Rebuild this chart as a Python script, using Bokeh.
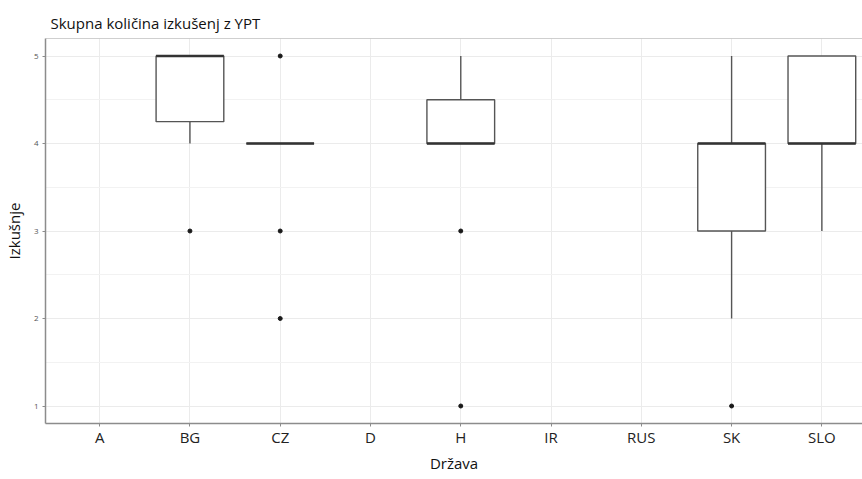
from bokeh.plotting import figure
from bokeh.models import Range1d, FixedTicker, Span
from bokeh.embed import file_html
from bokeh.resources import INLINE

# ---- data ----
countries = ["A", "BG", "CZ", "D", "H", "IR", "RUS", "SK", "SLO"]
box_countries = ["BG", "CZ", "H", "SK", "SLO"]
whisker_low = [4, 4, 4, 2, 3]
q1 = [4.25, 4, 4, 3, 4]
median = [5, 4, 4, 4, 4]
q3 = [5, 4, 4.5, 4, 5]
whisker_high = [5, 4, 5, 5, 5]
outlier_country = ["BG", "CZ", "CZ", "CZ", "H", "H", "SK"]
outlier_value = [3, 5, 3, 2, 3, 1, 1]
y_ticks = [1, 2, 3, 4, 5]

pos = {c: i + 1 for i, c in enumerate(countries)}
bx = [pos[c] for c in box_countries]
ox = [pos[c] for c in outlier_country]
half = 0.75 / 2

FONT = "Open Sans"
Y0, Y1 = 0.8, 5.2

p = figure(width=862, height=479, output_backend="svg", toolbar_location=None,
           x_range=Range1d(0.4, 9.45), y_range=Range1d(Y0, Y1),
           min_border_left=45, min_border_top=38, min_border_bottom=56, min_border_right=0)

p.title.text = "Skupna količina izkušenj z YPT"
p.title.text_font = FONT
p.title.text_font_size = "15px"
p.title.text_font_style = "normal"
p.title.text_color = "#111111"
p.title.offset = 5
p.title.standoff = 12

p.outline_line_color = None
p.background_fill_color = "white"
p.border_fill_color = "white"
p.add_layout(Span(location=Y1, dimension="width", line_color="#a0a0a0", line_width=1))

# grids
p.xgrid.ticker = FixedTicker(ticks=list(range(1, len(countries) + 1)))
p.xgrid.grid_line_color = "#ebebeb"
p.xgrid.grid_line_width = 1
p.ygrid.ticker = FixedTicker(ticks=y_ticks, minor_ticks=[1.5, 2.5, 3.5, 4.5])
p.ygrid.grid_line_color = "#ebebeb"
p.ygrid.minor_grid_line_color = "#f2f2f2"

# axes
p.xaxis.ticker = FixedTicker(ticks=list(range(1, len(countries) + 1)))
p.xaxis.major_label_overrides = {i + 1: c for i, c in enumerate(countries)}
p.yaxis.ticker = FixedTicker(ticks=y_ticks)
for ax in (p.xaxis[0], p.yaxis[0]):
    ax.axis_line_color = "#8c8c8c"
    ax.axis_line_width = 1.5
    ax.major_tick_line_color = "#8c8c8c"
    ax.major_tick_in = 0
    ax.major_tick_out = 3
    ax.minor_tick_line_color = None
    ax.axis_label_text_font = FONT
    ax.axis_label_text_font_style = "normal"
    ax.axis_label_text_font_size = "15px"
    ax.axis_label_text_color = "#111111"
    ax.major_label_text_font = FONT
p.xaxis.major_label_text_font_size = "15px"
p.xaxis.major_label_text_color = "#222222"
p.yaxis.major_label_text_font_size = "8px"
p.yaxis.major_label_text_color = "#555555"
p.xaxis.axis_label = "Država"
p.yaxis.axis_label = "Izkušnje"
p.xaxis.axis_label_standoff = 3
p.yaxis.axis_label_standoff = 7
p.xaxis.major_label_standoff = 0
p.yaxis.major_label_standoff = 4

# whiskers
p.segment(x0=bx, y0=q3, x1=bx, y1=whisker_high, line_color="#555555", line_width=1.4)
p.segment(x0=bx, y0=whisker_low, x1=bx, y1=q1, line_color="#555555", line_width=1.4)
# boxes
p.quad(left=[x - half for x in bx], right=[x + half for x in bx], bottom=q1, top=q3,
       fill_color="white", line_color="#555555", line_width=1.4)
# medians
p.segment(x0=[x - half for x in bx], y0=median, x1=[x + half for x in bx], y1=median,
          line_color="#333333", line_width=2.4)
# outliers
p.scatter(x=ox, y=outlier_value, size=4, color="#1a1a1a")

open("out.html", "w").write(file_html(p, INLINE))
